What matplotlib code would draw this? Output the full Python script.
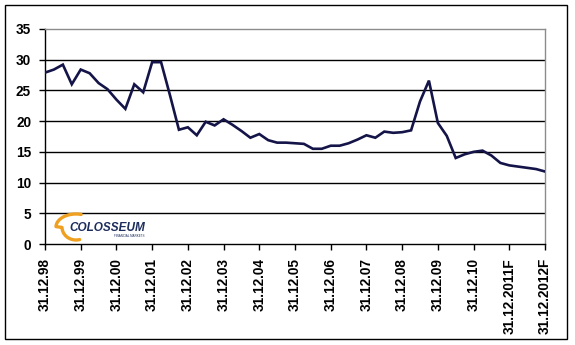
import numpy as np
import matplotlib.pyplot as plt
from matplotlib.patches import Rectangle
from matplotlib.lines import Line2D

plt.rcParams['font.family'] = ['Liberation Sans', 'DejaVu Sans']

# quarterly observations, 31.12.98 .. 31.12.2012F
values = [27.9, 28.4, 29.2, 26.0, 28.4, 27.8, 26.2, 25.2, 23.5, 22.0,
          26.0, 24.7, 29.6, 29.6, 24.2, 18.6, 19.0, 17.7, 19.9, 19.3,
          20.3, 19.4, 18.4, 17.3, 17.9, 16.9, 16.5, 16.5, 16.4, 16.3,
          15.5, 15.5, 16.0, 16.0, 16.4, 17.0, 17.7, 17.3, 18.3, 18.1,
          18.2, 18.5, 23.2, 26.6, 19.7, 17.6, 14.0, 14.6, 15.0, 15.2,
          14.4, 13.2, 12.8, 12.6, 12.4, 12.2, 11.8]
tick_labels = ['31.12.98', '31.12.99', '31.12.00', '31.12.01', '31.12.02',
               '31.12.03', '31.12.04', '31.12.05', '31.12.06', '31.12.07',
               '31.12.08', '31.12.09', '31.12.10', '31.12.2011F', '31.12.2012F']
y_ticks = [0, 5, 10, 15, 20, 25, 30, 35]

x = np.arange(len(values)) / 4.0

W, H = 575, 345
fig = plt.figure(figsize=(W / 100, H / 100), dpi=100)
fig.patches.append(Rectangle((5 / W, 6 / H), 562 / W, 334 / H,
                             transform=fig.transFigure, fill=False,
                             edgecolor='black', linewidth=1.0))

ax = fig.add_axes([45 / W, 101 / H, 500 / W, 215 / H])
ax.set_xlim(0, 14)
ax.set_ylim(0, 35)

for v in y_ticks[1:-1]:
    ax.axhline(v, color='black', linewidth=1.0, zorder=1)

ax.plot(x, values, color='#141448', linewidth=1.9, zorder=3,
        solid_joinstyle='miter')

ax.set_yticks(y_ticks)
ax.set_yticklabels([str(v) for v in y_ticks], fontsize=9.8, fontweight='bold')
ax.set_xticks(np.arange(len(tick_labels)))
ax.set_xticklabels(tick_labels, rotation=90, fontsize=9.8, fontweight='bold',
                   va='top')
ax.tick_params(axis='y', direction='out', length=4, width=1, pad=6)
ax.tick_params(axis='x', direction='out', length=4, width=1, pad=6)

for s in ('left', 'bottom'):
    ax.spines[s].set_color('black')
    ax.spines[s].set_linewidth(1.0)
for s in ('top', 'right'):
    ax.spines[s].set_color('#8c8c8c')
    ax.spines[s].set_linewidth(1.0)

# logo: C-shaped orange swoosh, wider at the top, plus the company name
t = np.linspace(np.radians(75), np.radians(285), 60)
rx = np.where(t < np.pi, 20, 14)
sx = 76 + rx * np.cos(t)
sy = 227 - 13 * np.sin(t)
fig.add_artist(Line2D(sx / W, 1 - sy / H, transform=fig.transFigure,
                      color='#f0a020', linewidth=2.4, solid_capstyle='round',
                      zorder=4))
fig.text(69 / W, 1 - 228 / H, 'COLOSSEUM', fontsize=8.5,
         fontweight='bold', style='italic', color='#1c2c5c', va='center',
         ha='left', zorder=5)
fig.text(145 / W, 1 - 236 / H, 'FINANCIAL MARKETS', fontsize=2.2,
         color='#1c2c5c', va='center', ha='right', zorder=5)

fig.savefig('out.png', dpi=100)
